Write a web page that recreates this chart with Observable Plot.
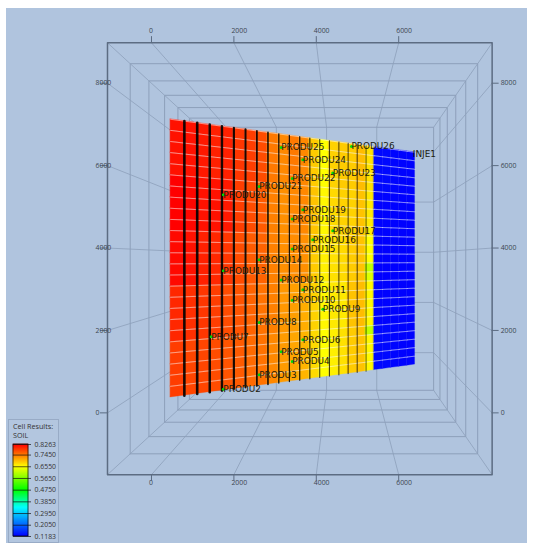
<!DOCTYPE html>
<html>
<head>
<meta charset="utf-8">
<script src="https://cdn.jsdelivr.net/npm/d3@7"></script>
<script src="https://cdn.jsdelivr.net/npm/@observablehq/plot@0.6"></script>
<style>
html,body{margin:0;padding:0;background:#fff;width:533px;height:550px;overflow:hidden}
#bg{position:absolute;left:6px;top:8px;width:521px;height:535px;background:#b0c4de}
#chart{position:absolute;left:0;top:0}
#legend{position:absolute;left:8px;top:419px;width:49px;height:122px;border:1px solid #98abc6;background:#b3c6df}
#legend .t{position:absolute;left:4px;top:2px;font:7.2px/9px "Open Sans",sans-serif;color:#333}
#legend svg{position:absolute;left:0;top:0}
</style>
</head>
<body>
<div id="bg"></div>
<div id="chart"></div>
<div id="legend"><div class="t">Cell Results:<br>SOIL</div></div>
<script>
// Axis ticks (world units)
const xTicks = [0, 2000, 4000, 6000];
const yTicks = [0, 2000, 4000, 6000, 8000];
// Box extents and perspective centre (world units)
const xBox = [-1068, 8268];
const yBox = [-1500, 8980];
const vanish = [4636, 3738];
const depthLevels = [0, 1, 2, 3, 4, 5, 6];
const depthStep = 0.107;
// Model surface: depth factor rises from left to right
const modelDepth = [1.111, 1.456];
const cellSize = 300, nCols = 24, nRows = 25;

// SOIL per column, five blocks of rows from top to bottom
const col00 = [.815,.826,.820,.800,.785];
const col01 = [.815,.822,.815,.795,.780];
const col02 = [.810,.815,.805,.790,.780];
const col03 = [.805,.815,.800,.785,.775];
const col04 = [.805,.810,.790,.775,.770];
const col05 = [.790,.785,.775,.770,.765];
const col06 = [.785,.775,.765,.760,.755];
const col07 = [.775,.765,.760,.750,.750];
const col08 = [.745,.740,.740,.740,.735];
const col09 = [.735,.730,.730,.725,.722];
const col10 = [.745,.735,.732,.720,.715];
const col11 = [.735,.735,.730,.710,.705];
const col12 = [.690,.695,.690,.685,.680];
const col13 = [.655,.660,.665,.660,.655];
const col14 = [.685,.680,.675,.670,.665];
const col15 = [.690,.685,.680,.670,.675];
const col16 = [.690,.685,.690,.695,.690];
const col17 = [.700,.695,.695,.700,.695];
const col18 = [.675,.670,.655,.660,.660];
const col19 = [.125,.120,.118,.120,.125];
const col20 = [.125,.120,.118,.120,.125];
const col21 = [.122,.120,.118,.120,.122];
const col22 = [.120,.119,.118,.119,.120];
const col23 = [.120,.119,.118,.119,.120];
const columns = [col00,col01,col02,col03,col04,col05,col06,col07,col08,col09,col10,col11,
                 col12,col13,col14,col15,col16,col17,col18,col19,col20,col21,col22,col23];
// Individual cells that stand out: column, row from the bottom, SOIL
const oddCells = [[18,11,.61],[18,10,.63],[18,4,.61]];
// Dark side faces between columns
const sideWidths = [2.6,2.6,2.5,2.4,2.2,2,1.8,1.6,1.3,1.2,1.2,1.1,.9,.9,.8,.8,.8,.7];

// Wells
const wellNames = ["PRODU2","PRODU3","PRODU4","PRODU5","PRODU6","PRODU7","PRODU8","PRODU9","PRODU10",
  "PRODU11","PRODU12","PRODU13","PRODU14","PRODU15","PRODU16","PRODU17","PRODU18","PRODU19","PRODU20",
  "PRODU21","PRODU22","PRODU23","PRODU24","PRODU25","PRODU26","INJE1"];
const wellX = [1250,2180,3100,2785,3410,950,2180,4015,3100,3410,2785,1250,2180,3100,3705,4325,3100,3410,
  1250,2180,3100,4325,3410,2785,4930,7115];
const wellY = [35,316,598,929,1233,1549,1859,2147,2475,2779,3095,3397,3708,4035,4332,4634,4952,5254,
  5557,5871,6193,6480,6800,7099,7410,7428];

// Legend
const legendLevels = [.8263,.7450,.6550,.5650,.4750,.3850,.2950,.2050,.1183];
const colorDomain = [.1183,.34,.475,.655,.8263];
const colorRange = ["#0000ff","#00ffff","#00ff00","#ffff00","#ff0000"];
const colorScale = {type:"linear",domain:colorDomain,range:colorRange,interpolate:"rgb"};

const along = (a,b,d) => a + (b - a) * d;
const boxPt = (X,Y,level) => {
  const d = 1 + depthStep * level;
  return {x: vanish[0] + (X - vanish[0]) / d, y: vanish[1] + (Y - vanish[1]) / d};
};
const modelPt = (X,Y) => {
  const d = along(modelDepth[0], modelDepth[1], X / (nCols * cellSize));
  return {x: vanish[0] + (X - vanish[0]) / d, y: vanish[1] + (Y - vanish[1]) / d};
};

const [x0,x1] = xBox, [y0,y1] = yBox;
const rings = depthLevels.flatMap(l => [[x0,y0],[x1,y0],[x1,y1],[x0,y1],[x0,y0]]
  .map(([X,Y]) => ({...boxPt(X,Y,l), id:"r"+l, front:l===0})));
const lastLevel = depthLevels[depthLevels.length-1];
const rays = [];
const addRay = (id,X,Y) => depthLevels.forEach(l => rays.push({...boxPt(X,Y,l), id}));
[[x0,y0],[x1,y0],[x1,y1],[x0,y1]].forEach(([X,Y],k) => addRay("c"+k,X,Y));
xTicks.forEach(t => { addRay("xt"+t,t,y1); addRay("xb"+t,t,y0);
  rays.push({...boxPt(t,y0,lastLevel),id:"xw"+t},{...boxPt(t,y1,lastLevel),id:"xw"+t}); });
yTicks.forEach(t => { addRay("yl"+t,x0,t); addRay("yr"+t,x1,t);
  rays.push({...boxPt(x0,t,lastLevel),id:"yw"+t},{...boxPt(x1,t,lastLevel),id:"yw"+t}); });

// Model cells
const soil = (j,i) => {
  const odd = oddCells.find(c => c[0]===j && c[1]===i);
  return odd ? odd[2] : columns[j][Math.floor((nRows-1-i)/5)];
};
const cells = [], rowLines = [], sideLines = [];
for (let j=0;j<nCols;j++) for (let i=0;i<nRows;i++) {
  const v = soil(j,i), id = j+"_"+i;
  for (const X of [j*cellSize,(j+1)*cellSize]) {
    const a = modelPt(X,i*cellSize), b = modelPt(X,(i+1)*cellSize);
    cells.push({x:a.x,y1:a.y,y2:b.y,id,v});
    rowLines.push({x:b.x,y:b.y,id});
  }
}
sideWidths.forEach((w,k) => {
  const X = (k+1)*cellSize;
  [0,nRows*cellSize].forEach(Y => sideLines.push({...modelPt(X,Y),id:k,w}));
});
const wells = wellNames.map((name,k) => ({name,...modelPt(wellX[k],wellY[k])}));

const gridColor = "#8d9fba", frameColor = "#5c6c82", labelColor = "#3c4450";
const tickFont = {fontFamily:"'Open Sans',sans-serif",fontSize:6.9,fill:labelColor};
const plot = Plot.plot({
  width:533,height:550,margin:0,
  style:{background:"transparent"},
  x:{domain:[-3665,9272],range:[0,533],axis:null},
  y:{domain:[-3340,10007],range:[550,0],axis:null},
  color:colorScale,
  marks:[
    Plot.line(rays,{x:"x",y:"y",z:"id",stroke:gridColor,strokeWidth:.8}),
    Plot.line(rings.filter(d=>!d.front),{x:"x",y:"y",z:"id",stroke:gridColor,strokeWidth:1}),
    Plot.line(rings.filter(d=>d.front),{x:"x",y:"y",z:"id",stroke:frameColor,strokeWidth:1.5}),
    // outer tick marks
    Plot.ruleX(xTicks,{x:d=>d,y1:y1,y2:y1+150,stroke:frameColor,strokeWidth:1}),
    Plot.ruleX(xTicks,{x:d=>d,y1:y0,y2:y0-150,stroke:frameColor,strokeWidth:1}),
    Plot.ruleY(yTicks,{y:d=>d,x1:x0,x2:x0-170,stroke:frameColor,strokeWidth:1}),
    Plot.ruleY(yTicks,{y:d=>d,x1:x1,x2:x1+170,stroke:frameColor,strokeWidth:1}),
    // tick labels
    Plot.text(xTicks,{x:d=>d,y:y1,text:String,dy:-12,dx:-2.5,textAnchor:"start",...tickFont}),
    Plot.text(xTicks,{x:d=>d,y:y0,text:String,dy:8,dx:-2.5,textAnchor:"start",...tickFont}),
    Plot.text(yTicks,{x:x0,y:d=>d,text:String,dx:-12,textAnchor:"start",...tickFont}),
    Plot.text(yTicks,{x:x1,y:d=>d,text:String,dx:8.5,textAnchor:"start",...tickFont}),
    // model
    Plot.areaY(cells,{x:"x",y1:"y1",y2:"y2",z:"id",fill:"v",stroke:"v",strokeWidth:.3,curve:"linear"}),
    Plot.line(rowLines,{x:"x",y:"y",z:"id",stroke:"#fff",strokeOpacity:.5,strokeWidth:1}),
    Plot.line(sideLines,{x:"x",y:"y",z:"id",stroke:"#000",strokeOpacity:.9,strokeWidth:"w",dx:.6}),
    // wells
    Plot.dot(wells.filter(d=>d.name!=="INJE1"),{x:"x",y:"y",r:1.5,fill:"#00dd00"}),
    Plot.text(wells,{x:"x",y:"y",text:"name",textAnchor:"start",
      fontFamily:"'DejaVu Sans',sans-serif",fontSize:8.9,fill:"#1c1c10"})
  ]
});
document.getElementById("chart").append(plot);

// Legend colour bar
const [lo,hi] = [legendLevels[legendLevels.length-1],legendLevels[0]];
const barEdges = d3.range(0,93).map(k => lo + (hi-lo)*k/92);
const barSteps = d3.pairs(barEdges).map(([a,b]) => ({a,b,v:(a+b)/2}));
const legend = Plot.plot({
  width:49,height:122,marginTop:24,marginBottom:6,marginLeft:4,marginRight:30,
  style:{background:"transparent",overflow:"visible"},
  x:{domain:[0,1],axis:null},
  y:{domain:[lo,hi],axis:null},
  color:colorScale,
  marks:[
    Plot.rect(barSteps,{x1:0,x2:1,y1:"a",y2:"b",fill:"v",stroke:"v",strokeWidth:.4}),
    Plot.rect([0],{x1:0,x2:1,y1:lo,y2:hi,stroke:"#000",strokeWidth:.7}),
    Plot.ruleY(legendLevels,{x1:0,x2:1.2,stroke:"#111",strokeWidth:.7}),
    Plot.text(legendLevels,{x:1,y:d=>d,text:d=>d.toFixed(4),dx:6,textAnchor:"start",
      fontFamily:"'Open Sans',sans-serif",fontSize:6.9,fill:"#333"})
  ]
});
document.getElementById("legend").append(legend);
</script>
</body>
</html>
